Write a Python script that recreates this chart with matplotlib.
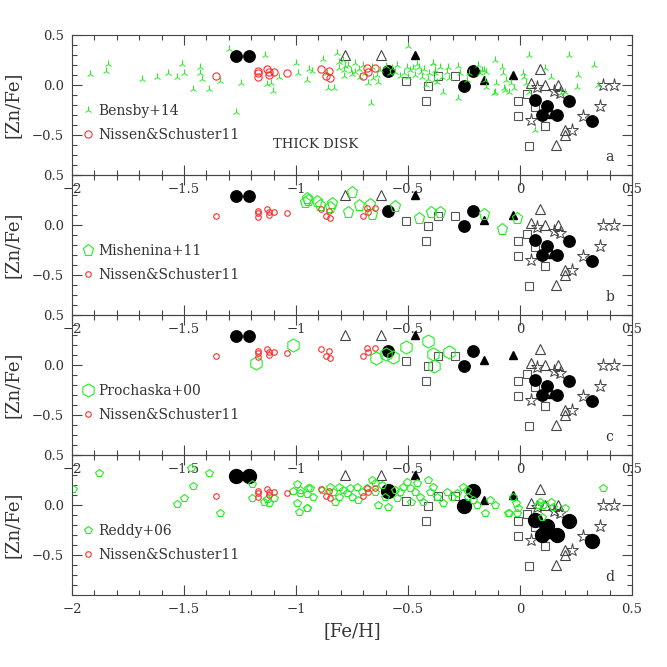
import matplotlib
matplotlib.use('Agg')
import matplotlib.pyplot as plt
from matplotlib.ticker import MultipleLocator, FuncFormatter

# black reference symbols (same in every panel)
fc_x = [-1.268, -1.21, -0.588, -0.25, -0.211, 0.067, 0.119, 0.097, 0.167, 0.22, 0.32]
fc_y = [0.29, 0.29, 0.14, -0.01, 0.143, -0.15, -0.207, -0.30, -0.30, -0.157, -0.357]
ft_x = [-0.469, -0.161, -0.03, 0.145]
ft_y = [0.30, 0.05, 0.10, -0.29]
ot_x = [-0.781, -0.621, 0.09, 0.05, 0.112, 0.17, 0.201, 0.201, 0.161]
ot_y = [0.30, 0.30, 0.16, 0.02, 0.0, 0.0, -0.45, -0.495, -0.595]
os_x = [-0.509, -0.409, -0.42, -0.367, -0.29, -0.01, -0.01, 0.03, 0.04, 0.067, 0.112]
os_y = [0.045, -0.01, -0.157, 0.093, 0.093, -0.157, -0.307, -0.085, -0.607, -0.22, -0.405]
st_x = [0.049, 0.074, 0.153, 0.179, 0.231, 0.28, 0.357, 0.372, 0.421]
st_y = [-0.35, -0.017, -0.06, -0.083, -0.45, -0.305, -0.205, 0.0, 0.0]

# Nissen & Schuster 2011
ns_x = [-1.357, -1.168, -1.168, -1.168, -1.128, -1.119, -1.119, -1.097, -1.039,
        -0.89, -0.868, -0.851, -0.848, -0.70, -0.685, -0.677, -0.648]
ns_y = [0.09, 0.14, 0.117, 0.077, 0.16, 0.127, 0.10, 0.133, 0.123,
        0.157, 0.093, 0.14, 0.067, 0.09, 0.167, 0.133, 0.173]

# Bensby+14
be_x = [-1.92, -1.848, -1.838, -1.689, -1.619, -1.57, -1.53, -1.508, -1.50, -1.458,
        -1.429, -1.429, -1.42, -1.388, -1.339, -1.299, -1.268, -1.247, -1.138, -1.13,
        -1.11, -1.101, -1.078, -1.0, -0.99, -0.952, -0.94, -0.93, -0.878, -0.86,
        -0.855, -0.83, -0.818, -0.808, -0.808, -0.79, -0.785, -0.785, -0.78, -0.77,
        -0.755, -0.75, -0.737, -0.737, -0.714, -0.70, -0.68, -0.667, -0.655, -0.632,
        -0.625, -0.558, -0.536, -0.506, -0.498, -0.476, -0.45, -0.44, -0.437, -0.42,
        -0.405, -0.39, -0.384, -0.38, -0.72, -0.69, -0.66, -0.64, -0.60, -0.58,
        -0.57, -0.55, -0.52, -0.50, -0.49, -0.47, -0.46, -0.43, -0.41,
        -0.387, -0.372, -0.38, -0.357, -0.35, -0.342, -0.327, -0.32, -0.316, -0.275,
        -0.275, -0.27, -0.238, -0.227, -0.186, -0.18, -0.17, -0.16, -0.15, -0.155,
        -0.15, -0.112, -0.117, -0.11, -0.105, -0.082, -0.075, -0.07, -0.065, -0.062,
        -0.05, -0.04, -0.025, 0.015, 0.02, 0.025, 0.042, 0.04, 0.067, 0.112,
        0.14, 0.185, 0.22, 0.20, 0.253, 0.26, 0.33, 0.35]
be_y = [0.107, 0.14, 0.207, 0.057, 0.083, 0.123, 0.083, 0.207, 0.117, -0.037,
        0.177, 0.117, 0.057, -0.037, 0.043, 0.357, -0.267, 0.023, 0.30, 0.01,
        0.023, -0.057, 0.077, 0.223, 0.123, 0.05, 0.16, 0.14, 0.257, 0.123,
        -0.033, -0.033, 0.323, 0.233, 0.167, 0.25, 0.15, 0.09, 0.19, 0.20,
        0.14, 0.11, 0.217, 0.133, 0.083, 0.20, 0.017, -0.183, 0.067, 0.033,
        0.15, 0.133, 0.09, 0.183, 0.39, 0.167, 0.183, 0.133, 0.083, 0.0,
        0.117, 0.217, 0.05, 0.15, 0.16, 0.12, 0.18, 0.10, 0.19, 0.12,
        0.17, 0.20, 0.12, 0.08, 0.15, 0.10, 0.21, 0.16, 0.06,
        0.217, 0.033, 0.117, 0.183, 0.083, -0.067, 0.133, 0.183, 0.067, 0.19,
        -0.133, 0.117, 0.05, 0.117, 0.2, 0.117, 0.15, 0.15, 0.133, 0.05,
        -0.017, 0.25, -0.083, -0.067, 0.017, 0.183, 0.117, -0.033, -0.05, 0.05,
        -0.067, 0.017, -0.033, 0.117, 0.083, 0.017, 0.30, -0.067, -0.45, 0.167,
        0.083, -0.083, 0.30, -0.067, -0.017, 0.10, 0.2, 0.0]

# Mishenina+11
mi_x = [-0.952, -0.96, -0.945, -0.908, -0.893, -0.841, -0.848, -0.751, -0.766, -0.717,
        -0.670, -0.66, -0.558, -0.45, -0.399, -0.357, -0.161, -0.082, -0.012]
mi_y = [0.273, 0.227, 0.25, 0.24, 0.20, 0.217, 0.183, 0.333, 0.127, 0.20,
        0.207, 0.107, 0.193, 0.067, 0.127, 0.127, 0.107, -0.043, 0.067]

# Prochaska+00
pr_x = [-1.18, -1.012, -0.643, -0.598, -0.568, -0.509, -0.409, -0.387, -0.384, -0.316]
pr_y = [0.025, 0.20, 0.067, 0.107, 0.083, 0.177, 0.243, 0.107, -0.007, 0.133]

# Reddy+06
re_x = [-1.997, -1.878, -1.53, -1.499, -1.47, -1.46, -1.387, -1.339, -1.198, -1.198,
        -1.143, -1.128, -1.12, -1.098, -1.012, -0.997, -0.997, -0.988, -0.982, -0.95,
        -0.95, -0.945, -0.98, -0.952, -0.938, -0.923, -0.885, -0.848, -0.833, -0.826,
        -0.81, -0.81, -0.789, -0.774, -0.759, -0.751, -0.729, -0.722, -0.707, -0.685,
        -0.662, -0.647, -0.647, -0.632, -0.618, -0.604, -0.589, -0.559, -0.551, -0.536,
        -0.521, -0.506, -0.49, -0.485, -0.47, -0.462, -0.447, -0.432, -0.41, -0.402,
        -0.387, -0.372, -0.342, -0.327, -0.304, -0.282, -0.253, -0.238, -0.23, -0.208,
        -0.193, -0.156, -0.134, -0.112, -0.052, -0.007, -0.03, -0.018, -0.047, -0.012,
        0.08, 0.089, 0.103, 0.14, 0.148, 0.2, 0.1, 0.372]
re_y = [0.16, 0.323, 0.01, 0.073, 0.373, 0.19, 0.323, -0.077, 0.21, 0.073,
        0.033, 0.06, 0.017, 0.073, 0.14, 0.207, 0.023, -0.067, 0.117, -0.033,
        0.107, 0.167, 0.15, -0.033, 0.167, 0.083, 0.15, 0.183, 0.133, 0.033,
        0.183, 0.083, 0.15, 0.117, 0.167, 0.083, 0.183, 0.05, 0.133, 0.167,
        0.25, 0.217, 0.133, 0.0, 0.20, 0.083, -0.017, 0.15, 0.067, 0.133,
        0.183, 0.233, 0.167, 0.033, 0.133, 0.217, 0.083, 0.033, 0.25, 0.133,
        0.183, 0.083, 0.017, 0.133, 0.083, 0.117, 0.183, 0.15, 0.083, 0.05,
        0.0, -0.083, 0.05, 0.0, -0.083, -0.033, 0.083, 0.017, -0.083, -0.083,
        0.0, 0.033, 0.0, 0.033, -0.017, -0.027, -0.117, 0.173]

panel_letters = ['a', 'b', 'c', 'd']

GREEN = '#22ee22'
RED = '#ff3030'
GREY = '#444444'

plt.rcParams['font.family'] = ['DejaVu Serif']


def style_axes(ax):
  ax.set_facecolor('none')
  ax.set_xlim(-2, 0.5)
  ax.set_ylim(-0.9, 0.5)
  ax.xaxis.set_major_locator(MultipleLocator(0.5))
  ax.xaxis.set_minor_locator(MultipleLocator(0.1))
  ax.yaxis.set_major_locator(MultipleLocator(0.5))
  ax.yaxis.set_minor_locator(MultipleLocator(0.1))
  ax.xaxis.set_major_formatter(FuncFormatter(lambda v, p: ('%g' % v).replace('-', '\u2212')))
  ax.yaxis.set_major_formatter(FuncFormatter(lambda v, p: ('%.1f' % v).replace('-', '\u2212')))
  ax.tick_params(which='both', direction='in', top=True, right=True,
                 color=GREY, width=0.8, labelcolor='#333333', labelsize=9.5, pad=6)
  ax.tick_params(which='major', length=7)
  ax.tick_params(which='minor', length=3.5)
  for s in ax.spines.values():
    s.set_color(GREY)
    s.set_linewidth(0.8)
  ax.set_ylabel('[Zn/Fe]', fontsize=13, color='#333333')
  ax.yaxis.set_label_coords(-0.09, 0.5)


def draw_reference(ax, big=False):
  cs = 10 if big else 8.2
  ax.plot(os_x, os_y, 's', ms=5.5, mfc='none', mec='#555555', mew=0.8, ls='none')
  ax.plot(ot_x, ot_y, '^', ms=7.2, mfc='none', mec=GREY, mew=0.8, ls='none')
  ax.plot(st_x, st_y, '*', ms=9.5, mfc='none', mec=GREY, mew=0.7, ls='none')
  ax.plot(ft_x, ft_y, '^', ms=5.5, mfc='black', mec='black', ls='none')
  ax.plot(fc_x, fc_y, 'o', ms=cs, mfc='black', mec='black', ls='none')


fig = plt.figure(figsize=(6.67, 6.67), dpi=100)
W = 667.0
axes = []
for i in range(4):
  top = 35 + 140 * i
  ax = fig.add_axes([72 / W, 1 - (top + 140) / W, 560 / W, 140 / W])
  style_axes(ax)
  axes.append(ax)

red_small = 4.0

# a: Bensby+14
ax = axes[0]
draw_reference(ax)
ax.plot(be_x, be_y, '2', ms=5.5, color=GREEN, mew=0.7, ls='none', label='Bensby+14')
ax.plot(ns_x, ns_y, 'o', ms=5.2, mfc='none', mec=RED, mew=0.8, ls='none', label='Nissen&Schuster11')
ax.text(-1.103, -0.6, 'THICK DISK', fontsize=9.5, color='#333333', ha='left', va='center')

# b: Mishenina+11
ax = axes[1]
draw_reference(ax)
ax.plot(mi_x, mi_y, 'p', ms=8.1, mfc='none', mec=GREEN, mew=0.8, ls='none', label='Mishenina+11')
ax.plot(ns_x, ns_y, 'o', ms=red_small, mfc='none', mec=RED, mew=0.8, ls='none', label='Nissen&Schuster11')

# c: Prochaska+00
ax = axes[2]
draw_reference(ax)
ax.plot(pr_x, pr_y, 'h', ms=9.4, mfc='none', mec=GREEN, mew=0.8, ls='none', label='Prochaska+00')
ax.plot(ns_x, ns_y, 'o', ms=red_small, mfc='none', mec=RED, mew=0.8, ls='none', label='Nissen&Schuster11')

# d: Reddy+06
ax = axes[3]
draw_reference(ax, big=True)
ax.plot(re_x, re_y, 'p', ms=5.4, mfc='none', mec=GREEN, mew=0.8, ls='none', label='Reddy+06')
ax.plot(ns_x, ns_y, 'o', ms=red_small, mfc='none', mec=RED, mew=0.8, ls='none', label='Nissen&Schuster11')
ax.set_xlabel('[Fe/H]', fontsize=13, color='#333333', labelpad=4)

for ax, letter in zip(axes, panel_letters):
  handles, labels = ax.get_legend_handles_labels()
  leg = ax.legend(handles[-2:], labels[-2:], loc='center left', bbox_to_anchor=(0.018, 0.371),
                  frameon=False, borderpad=0, borderaxespad=0, handlelength=0.9,
                  handletextpad=0.25, labelspacing=0.7, fontsize=10, numpoints=1)
  for t in leg.get_texts():
    t.set_color('#333333')
  ax.text(0.40, -0.72, letter, fontsize=10, color='#333333', ha='center', va='center')

fig.savefig('out.png', dpi=100)
